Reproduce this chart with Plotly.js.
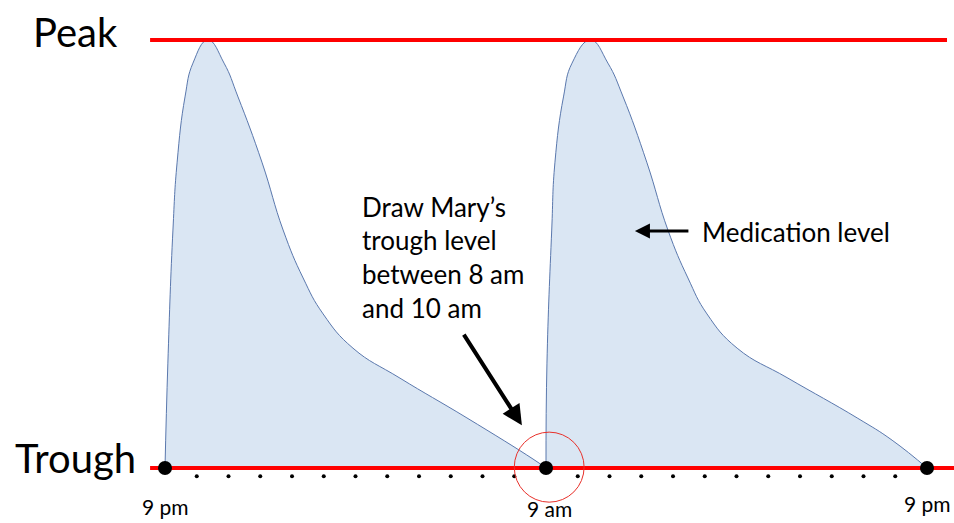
<!DOCTYPE html>
<html>
<head>
<meta charset="utf-8">
<script src="https://cdn.plot.ly/plotly-3.0.1.min.js"></script>
<style>html,body{margin:0;padding:0;background:#fff;}#chart{width:954px;height:523px;}</style>
</head>
<body>
<div id="chart"></div>
<script>
// Hours after 9 pm (0 = 9 pm, 12 = 9 am, 24 = 9 pm); level 0 = trough, 100 = peak
const dose1Hours = [0, 0.09, 0.25, 0.38, 0.63, 0.88, 1.35, 1.86, 2.30, 3.06, 3.72, 4.35, 4.98, 5.92, 7.40, 9.51, 11.59, 12.0];
const dose1Level = [0, 24.5, 55.6, 71.3, 86.7, 94.6, 100, 94.6, 86.7, 71.3, 55.6, 44.4, 36.0, 28.0, 21.0, 11.7, 2.1, 0];
const dose2Hours = [12.0, 12.03, 12.18, 12.28, 12.55, 12.82, 13.40, 13.95, 14.43, 15.18, 15.84, 16.47, 17.07, 18.02, 19.62, 21.80, 22.90, 24.0];
const dose2Level = [0, 24.5, 55.6, 71.3, 86.7, 94.6, 100, 94.6, 86.7, 71.3, 55.6, 44.4, 36.0, 28.0, 21.0, 11.7, 6.5, 0];
const doseHours = [0, 12, 24];
const doseLabels = ["9 pm", "9 am", "9 pm"];
const hourTicks = [1,2,3,4,5,6,7,8,9,10,11,13,14,15,16,17,18,19,20,21,22,23];
const peakLevel = 100;
const troughLevel = 0;

const FONT = "Lato, 'Open Sans', sans-serif";
const fillCol = "rgba(218,230,243,1)";
const edgeCol = "#5a78ad";

const traces = [
  {x: dose1Hours, y: dose1Level, type: "scatter", mode: "lines", fill: "tozeroy",
   fillcolor: fillCol, line: {color: edgeCol, width: 1, shape: "spline", smoothing: 1.3}, hoverinfo: "skip"},
  {x: dose2Hours, y: dose2Level, type: "scatter", mode: "lines", fill: "tozeroy",
   fillcolor: fillCol, line: {color: edgeCol, width: 1, shape: "spline", smoothing: 1.3}, hoverinfo: "skip"},
  {x: [-0.47, 24.63], y: [peakLevel, peakLevel], type: "scatter", mode: "lines",
   line: {color: "#ff0000", width: 4}, hoverinfo: "skip"},
  {x: [-0.47, 26], y: [troughLevel, troughLevel], type: "scatter", mode: "lines",
   line: {color: "#ff0000", width: 4}, hoverinfo: "skip"},
  {x: hourTicks, y: hourTicks.map(() => troughLevel - 1.9), type: "scatter", mode: "markers",
   marker: {color: "#000", size: 4}, hoverinfo: "skip"},
  {x: doseHours, y: doseHours.map(() => troughLevel), type: "scatter", mode: "markers",
   marker: {color: "#000", size: 14}, hoverinfo: "skip"}
];

const labelY = [-9.0, -9.4, -8.3];
const labelX = [0.03, 12.12, 24.03];
const annotations = [
  {x: -2.83, y: 101.9, text: "Peak", showarrow: false, xanchor: "center", yanchor: "middle",
   font: {family: FONT, size: 40, color: "#000"}},
  {x: -2.83, y: 2.3, text: "Trough", showarrow: false, xanchor: "center", yanchor: "middle",
   font: {family: FONT, size: 40, color: "#000"}},
  {x: 16.85, y: 55.1, text: "Medication level", showarrow: false, xanchor: "left", yanchor: "middle",
   font: {family: FONT, size: 26, color: "#000"}},
  {x: 14.80, y: 55.4, ax: 55, ay: 0, text: "", showarrow: true, arrowhead: 2, arrowsize: 1,
   arrowwidth: 3, arrowcolor: "#000", standoff: 0, startstandoff: 0},
  {x: 11.24, y: 10.0, ax: -59, ay: -92, text: "", showarrow: true, arrowhead: 2, arrowsize: 1,
   arrowwidth: 4, arrowcolor: "#000", standoff: 0, startstandoff: 0}
];
const noteLines = ["Draw Mary\u2019s", "trough level", "between 8 am", "and 10 am"];
const noteY = [61.0, 53.3, 45.3, 37.4];
noteLines.forEach((t, i) => annotations.push({x: 6.14, y: noteY[i], text: t, showarrow: false,
  xanchor: "left", yanchor: "middle", font: {family: FONT, size: 26, color: "#000"}}));
doseLabels.forEach((t, i) => annotations.push({x: labelX[i], y: labelY[i], text: t, showarrow: false,
  xanchor: "center", yanchor: "middle", font: {family: FONT, size: 21, color: "#000"}}));

const layout = {
  width: 954, height: 523,
  margin: {l: 0, r: 0, t: 0, b: 0, pad: 0},
  paper_bgcolor: "#fff", plot_bgcolor: "#fff",
  showlegend: false,
  xaxis: {range: [-5.197, 24.85], visible: false, fixedrange: true},
  yaxis: {range: [-12.85, 109.35], visible: false, fixedrange: true},
  shapes: [
    {type: "circle", xref: "x", yref: "y", x0: 11.0, x1: 13.2, y0: -7.98, y1: 8.38,
     line: {color: "#e8302a", width: 1}, layer: "above"}
  ],
  annotations: annotations
};

Plotly.newPlot("chart", traces, layout, {displayModeBar: false, staticPlot: true});
</script>
</body>
</html>
